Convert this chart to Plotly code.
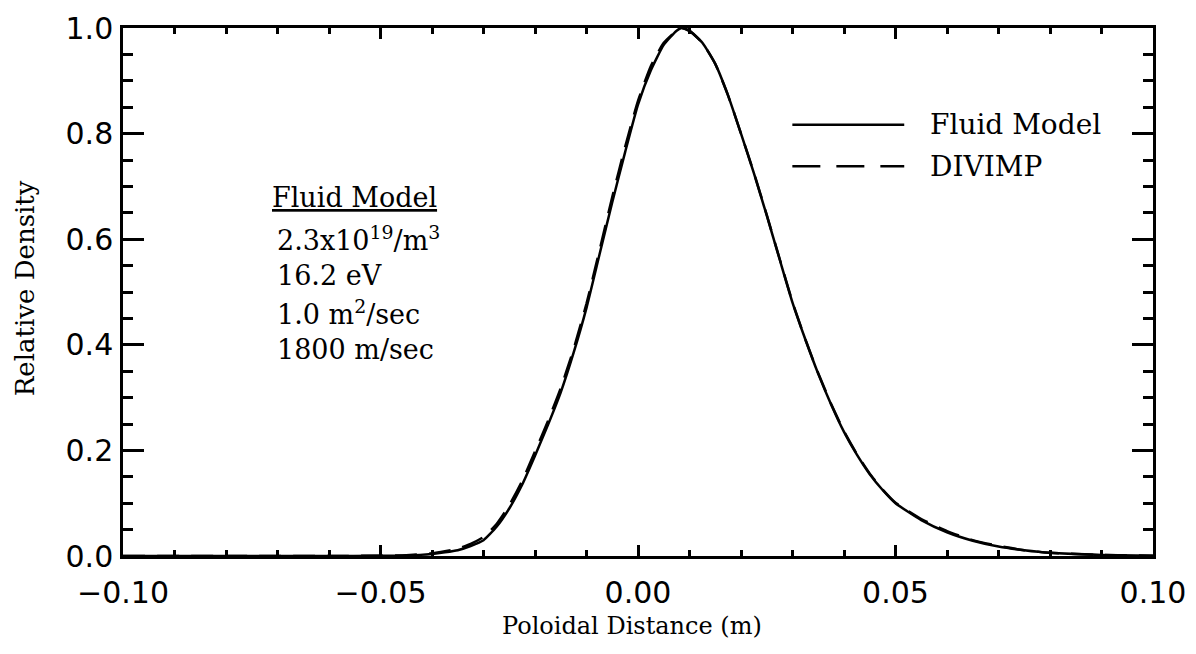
import plotly.graph_objects as go

# poloidal distance (m) and relative density
distance = [-0.100, -0.060, -0.050, -0.045, -0.0400, -0.0375, -0.0350, -0.0325,
            -0.0300, -0.0275, -0.0250, -0.0225, -0.0200, -0.0175, -0.0150, -0.0125,
            -0.0100, -0.0075, -0.0050, -0.0025, 0.0000, 0.0025, 0.0050, 0.0075,
            0.0085, 0.0100, 0.0125, 0.0150, 0.0175, 0.0200, 0.0225, 0.0250,
            0.0275, 0.0300, 0.0325, 0.0350, 0.0375, 0.0400, 0.0425, 0.0450,
            0.0475, 0.0500, 0.055, 0.060, 0.065, 0.070, 0.075, 0.080, 0.090, 0.100]
fluid_model = [0.0, 0.0, 0.0003, 0.001, 0.004, 0.007, 0.011, 0.019,
               0.030, 0.055, 0.090, 0.135, 0.190, 0.248, 0.310, 0.385,
               0.470, 0.570, 0.670, 0.765, 0.855, 0.920, 0.968, 0.995,
               1.000, 0.995, 0.972, 0.932, 0.872, 0.800, 0.725, 0.645,
               0.562, 0.480, 0.410, 0.345, 0.287, 0.235, 0.192, 0.155,
               0.125, 0.100, 0.068, 0.045, 0.029, 0.018, 0.011, 0.006, 0.002, 0.0005]
divimp = [0.0, 0.0, 0.0005, 0.0015, 0.005, 0.009, 0.014, 0.023,
          0.036, 0.060, 0.096, 0.142, 0.198, 0.255, 0.318, 0.392,
          0.478, 0.578, 0.680, 0.775, 0.862, 0.928, 0.972, 0.995,
          1.000, 0.994, 0.972, 0.932, 0.872, 0.800, 0.726, 0.646,
          0.563, 0.481, 0.410, 0.346, 0.288, 0.236, 0.193, 0.156,
          0.126, 0.101, 0.070, 0.047, 0.030, 0.019, 0.011, 0.006, 0.002, 0.0005]

x_ticks = [-0.10, -0.05, 0.00, 0.05, 0.10]
y_ticks = [0.0, 0.2, 0.4, 0.6, 0.8, 1.0]

info_title = "Fluid Model"
info_lines = ["2.3x10<sup>19</sup>/m<sup>3</sup>", "16.2 eV",
              "1.0 m<sup>2</sup>/sec", "1800 m/sec"]
legend_names = ["Fluid Model", "DIVIMP"]

W, H = 1196, 654
L, R, T, B = 123, 1154, 10, 556


def px(x):
    return (x - L) / (R - L)


def py(y):
    return (B - y) / (B - T)


serif = "DejaVu Serif, serif"
sans = "DejaVu Sans, sans-serif"

fig = go.Figure()
fig.add_trace(go.Scatter(x=distance, y=fluid_model, mode="lines", name=legend_names[0],
                         line=dict(color="black", width=2.5, shape="spline", smoothing=0.5)))
fig.add_trace(go.Scatter(x=distance, y=divimp, mode="lines", name=legend_names[1],
                         line=dict(color="black", width=2.5, dash="22px,12px",
                                   shape="spline", smoothing=0.5)))

axis_common = dict(showline=True, linecolor="black", linewidth=2.5, mirror="ticks",
                   ticks="inside", tickcolor="black", tickwidth=2.5,
                   showgrid=False, zeroline=False, ticklabeloverflow="allow",
                   tickfont=dict(family=sans, size=30, color="black"))

fig.update_xaxes(range=[-0.1, 0.1], tickvals=x_ticks, tickformat=".2f", ticklen=11,
                 minor=dict(dtick=0.01, ticklen=6, tickwidth=2.5, tickcolor="black",
                            ticks="inside", showgrid=False),
                 ticklabelstandoff=8, **axis_common)
fig.update_yaxes(range=[0, 1.0], tickvals=y_ticks, tickformat=".1f", ticklen=21,
                 minor=dict(dtick=0.05, ticklen=10, tickwidth=2.5, tickcolor="black",
                            ticks="inside", showgrid=False),
                 ticklabelstandoff=1, **axis_common)

ann = []
ann.append(dict(x=px(632), y=py(628), text="Poloidal Distance (m)", textangle=0,
                font=dict(family=serif, size=24)))
ann.append(dict(x=px(25), y=py(279), text="Relative Density", textangle=-90,
                font=dict(family=serif, size=26)))
ann.append(dict(x=px(270), y=py(185), text="<u>" + info_title + "</u>", xanchor="left",
                font=dict(family=serif, size=27)))
for i, t in enumerate(info_lines):
    ann.append(dict(x=px(275), y=py(228 + 38 * i), text=t, xanchor="left",
                    font=dict(family=serif, size=27)))
for i, name in enumerate(legend_names):
    ann.append(dict(x=px(929), y=py(110 + 43 * i), text=name, xanchor="left",
                    font=dict(family=serif, size=28)))
for a in ann:
    a.update(xref="paper", yref="paper", showarrow=False, yanchor="middle")
    a.setdefault("xanchor", "center")
    a["font"]["color"] = "black"

shapes = [
    dict(type="line", xref="paper", yref="paper", x0=px(793), x1=px(905),
         y0=py(110), y1=py(110), line=dict(color="black", width=2.5)),
    dict(type="line", xref="paper", yref="paper", x0=px(793), x1=px(905),
         y0=py(153), y1=py(153), line=dict(color="black", width=2.5, dash="28px,16px")),
]

fig.update_layout(width=W, height=H, margin=dict(l=L, r=W - R, t=T, b=H - B),
                  plot_bgcolor="white", paper_bgcolor="white", showlegend=False,
                  annotations=ann, shapes=shapes)

fig.write_html("out.html", config={"displayModeBar": False},
               post_script="document.body.style.margin = '0px';")
